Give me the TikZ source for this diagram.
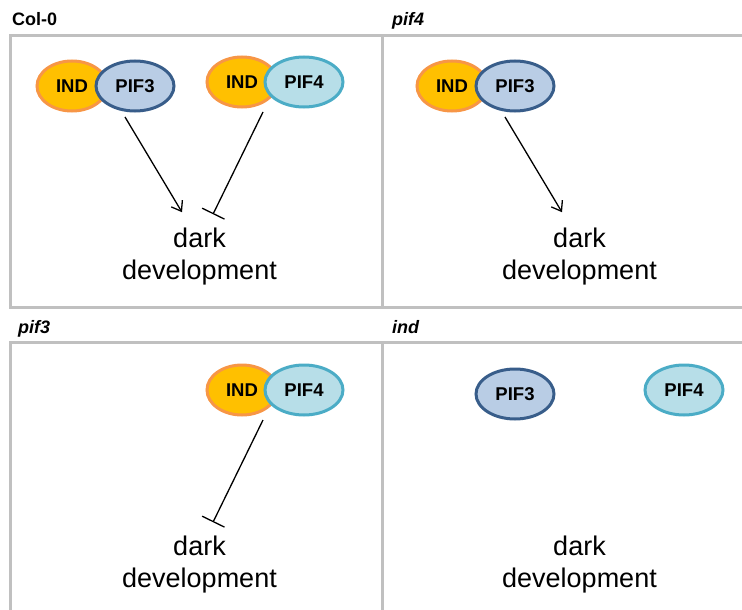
\documentclass[tikz,border=0pt]{standalone}
\usepackage{fontspec}
\setmainfont{Liberation Sans}
\usepackage{xcolor}
\usepackage{tikz}
\usetikzlibrary{arrows.meta,shapes.geometric}

\definecolor{indfill}{HTML}{FFC000}
\definecolor{inddraw}{HTML}{F79646}
\definecolor{pifcfill}{HTML}{B9CDE5}
\definecolor{pifcdraw}{HTML}{385D8A}
\definecolor{pifdfill}{HTML}{B7DEE8}
\definecolor{pifddraw}{HTML}{4BACC6}
\definecolor{framegray}{HTML}{C0C0C0}

\begin{document}
\begin{tikzpicture}[
  x=1pt,y=-1pt,
  prot/.style={ellipse,line width=3pt,inner sep=0pt,minimum height=50pt,font=\fontsize{18.5}{20}\selectfont\bfseries},
  indp/.style={prot,draw=inddraw,fill=indfill,minimum width=70pt},
  pifc/.style={prot,draw=pifcdraw,fill=pifcfill,minimum width=78pt},
  pifd/.style={prot,draw=pifddraw,fill=pifdfill,minimum width=78pt},
  dev/.style={align=center,inner sep=0pt,font=\fontsize{27}{32}\selectfont},
  lbl/.style={anchor=base west,inner sep=0pt,font=\fontsize{18}{20}\selectfont\bfseries},
  frame/.style={draw=framegray,line width=3pt},
  act/.style={-{Straight Barb[length=9pt,width=13pt]},line width=1.3pt},
  inh/.style={-{Bar[width=25pt]},line width=1.3pt}
]
\useasboundingbox (0,0) rectangle (742,610);
\draw[frame] (742,36) -- (10,36) -- (10,307) -- (742,307);
\draw[frame] (382,36) -- (382,307);
\draw[frame] (742,342) -- (10,342) -- (10,610);
\draw[frame] (382,342) -- (382,610);

\node[lbl] (lcol) at (12,26) {Col-0};
\node[lbl] (lpfd) at (392,26) {\itshape pif4};
\node[lbl] (lpfc) at (18,333) {\itshape pif3};
\node[lbl] (lind) at (392,333) {\itshape ind};

% Col-0
\node[indp] (inda) at (72,86) {IND};
\node[pifc] (pifca) at (135,86) {PIF3};
\node[indp] (indb) at (242,82) {IND};
\node[pifd] (pifda) at (304,82) {PIF4};
\node[dev] (deva) at (199.5,257) {dark\\development};
\draw[act] ([xshift=-10pt,yshift=-4.5pt]pifca.south) -- ([xshift=-17.5pt,yshift=16pt]deva.north);
\draw[inh] ([xshift=-41pt,yshift=-3.5pt]pifda.south) -- ([xshift=13.5pt,yshift=14pt]deva.north);

% pif4
\node[indp] (indc) at (452,86) {IND};
\node[pifc] (pifcb) at (515,86) {PIF3};
\node[dev] (devb) at (579.5,257) {dark\\development};
\draw[act] ([xshift=-10pt,yshift=-4.5pt]pifcb.south) -- ([xshift=-17.5pt,yshift=16pt]devb.north);

% pif3
\node[indp] (indd) at (242,390) {IND};
\node[pifd] (pifdb) at (304,390) {PIF4};
\node[dev] (devc) at (199.5,565) {dark\\development};
\draw[inh] ([xshift=-41pt,yshift=-3.5pt]pifdb.south) -- ([xshift=13.5pt,yshift=14pt]devc.north);

% ind
\node[pifc] (pifcc) at (515,394) {PIF3};
\node[pifd] (pifdc) at (684,390) {PIF4};
\node[dev] (devd) at (579.5,565) {dark\\development};
\end{tikzpicture}
\end{document}
